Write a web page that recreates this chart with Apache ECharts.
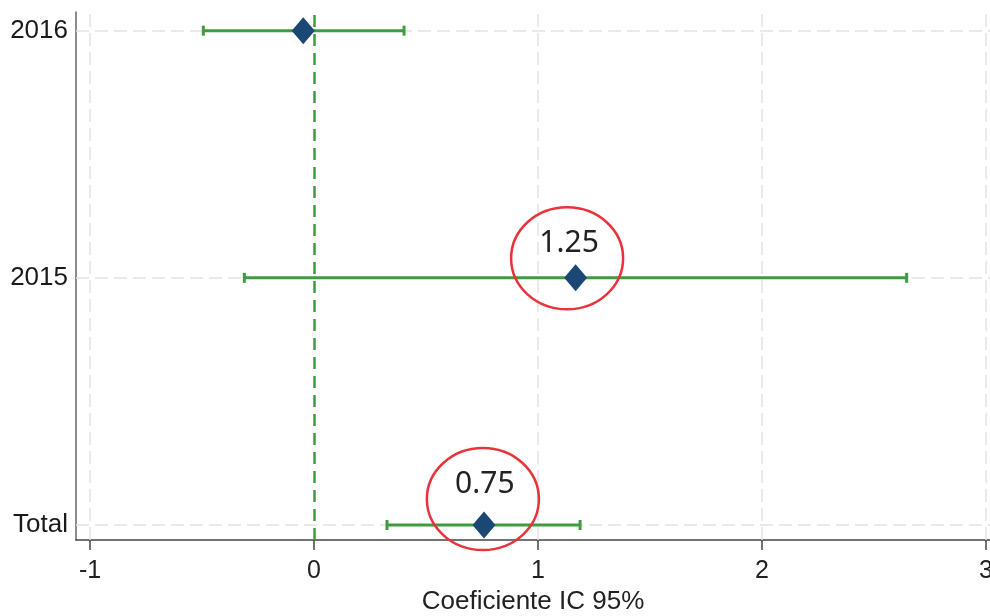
<!DOCTYPE html>
<html>
<head>
<meta charset="utf-8">
<script src="https://cdn.jsdelivr.net/npm/echarts@6/dist/echarts.min.js"></script>
<style>
html,body{margin:0;padding:0;background:#fff;}
#chart{width:990px;height:616px;}
</style>
</head>
<body>
<div id="chart"></div>
<script>
// Categories (row index 0 = bottom)
const categories = ['Total', '2015', '2016'];
// Point estimates and 95% CI
const coef  = [0.759, 1.168, -0.048];
const ciLow = [0.326, -0.311, -0.494];
const ciHigh= [1.188, 2.646, 0.402];
// X ticks
const xTicks = [-1, 0, 1, 2, 3];
const rowTicks = [0, 1, 2];
// Annotations (red circles)
const annotText = ['1.25', '0.75'];
const annotX = [1.13, 0.754];
const annotY = [1.079, 0.105];

const green = '#3f9b3f';
const gridColor = '#e3e3e3';

const chart = echarts.init(document.getElementById('chart'), null, {renderer: 'canvas'});

const ciData = categories.map((c, i) => [ciLow[i], ciHigh[i], i]);
const ptData = categories.map((c, i) => [coef[i], i]);
const annData = annotText.map((t, i) => [annotX[i], annotY[i], t]);

const option = {
  animation: false,
  backgroundColor: '#fff',
  grid: {left: 76, right: 0, top: 12, bottom: 76, outerBoundsMode: 'none', containLabel: false},
  xAxis: {
    type: 'value',
    min: -1.0625,
    max: 3.018,
    name: 'Coeficiente IC 95%',
    nameLocation: 'middle',
    nameGap: 45,
    nameTextStyle: {fontFamily: 'Liberation Sans', fontSize: 26, color: '#222'},
    axisLine: {show: true, onZero: false, lineStyle: {color: '#444', width: 1.5}},
    axisTick: {show: true, customValues: xTicks, length: 10, lineStyle: {color: '#444', width: 1.5}},
    axisLabel: {customValues: xTicks, fontFamily: 'Liberation Sans', fontSize: 25, color: '#222', margin: 19,
      formatter: v => String(Math.round(v))},
    splitLine: {show: false}
  },
  yAxis: {
    type: 'value',
    min: -0.0606,
    max: 2.0756,
    axisLine: {show: true, onZero: false, lineStyle: {color: '#666', width: 1.5}},
    axisTick: {show: false, customValues: rowTicks},
    axisLabel: {customValues: rowTicks, fontFamily: 'Liberation Sans', fontSize: 26, color: '#1a1a1a', margin: 8,
      formatter: v => categories[Math.round(v)] || ''},
    splitLine: {show: false}
  },
  series: [
    {
      type: 'custom',
      name: 'ci',
      z: 3,
      data: ciData,
      encode: {x: [0, 1], y: 2},
      renderItem: function (params, api) {
        const p1 = api.coord([api.value(0), api.value(2)]);
        const p2 = api.coord([api.value(1), api.value(2)]);
        const h = 5;
        const st = {stroke: green, lineWidth: 3};
        return {
          type: 'group',
          children: [
            {type: 'line', shape: {x1: p1[0], y1: p1[1], x2: p2[0], y2: p2[1]}, style: st},
            {type: 'line', shape: {x1: p1[0], y1: p1[1] - h, x2: p1[0], y2: p1[1] + h}, style: st},
            {type: 'line', shape: {x1: p2[0], y1: p2[1] - h, x2: p2[0], y2: p2[1] + h}, style: st}
          ]
        };
      },
      markLine: {
        silent: true,
        symbol: 'none',
        label: {show: false},
        z: 1,
        data: [
          ...xTicks.filter(v => v !== 0).map(v => ({xAxis: v, lineStyle: {color: gridColor, width: 1.5, type: [13, 6]}})),
          ...rowTicks.map(v => ({yAxis: v, lineStyle: {color: gridColor, width: 1.5, type: [13, 6]}})),
          {xAxis: 0, lineStyle: {color: green, width: 2.5, type: [12, 7]}}
        ]
      }
    },
    {
      type: 'scatter',
      name: 'coef',
      z: 5,
      symbol: 'diamond',
      symbolSize: [23, 27],
      itemStyle: {color: '#1b4775', opacity: 1},
      data: ptData
    },
    {
      type: 'custom',
      name: 'annot',
      z: 6,
      silent: true,
      data: annData,
      encode: {x: 0, y: 1},
      renderItem: function (params, api) {
        const c = api.coord([api.value(0), api.value(1)]);
        return {
          type: 'group',
          children: [
            {type: 'ellipse', shape: {cx: c[0], cy: c[1], rx: 56, ry: 51},
             style: {fill: 'none', stroke: '#e8333b', lineWidth: 2.5}},
            {type: 'text', x: c[0] + 2, y: c[1] - 15,
             style: {text: annData[params.dataIndex][2], fontFamily: 'Noto Sans', fontSize: 30,
                     fill: '#222', align: 'center', verticalAlign: 'middle'}}
          ]
        };
      }
    }
  ]
};
chart.setOption(option);
</script>
</body>
</html>
